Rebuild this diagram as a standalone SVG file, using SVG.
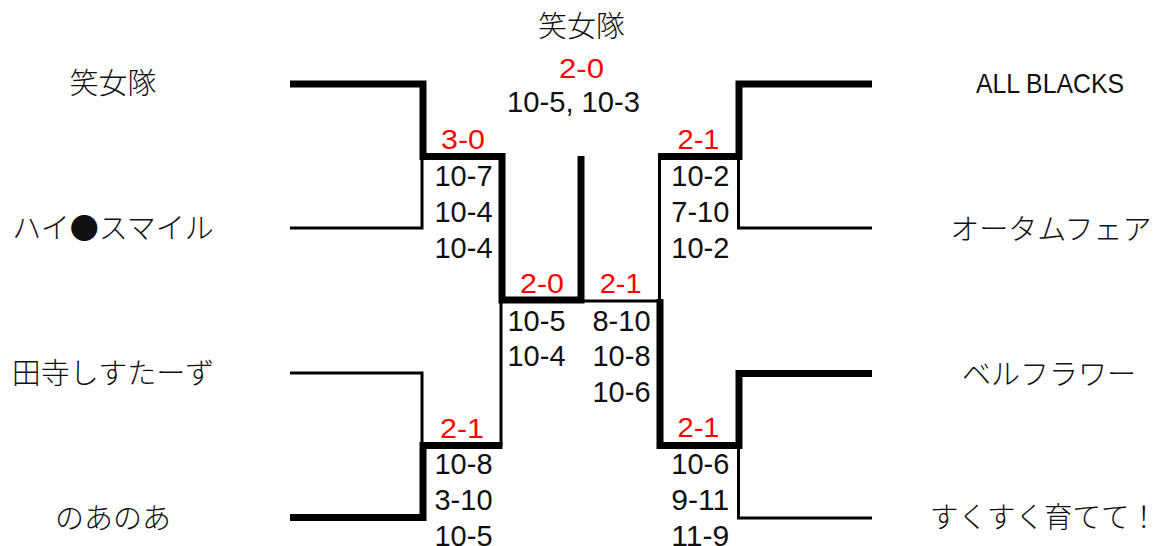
<svg xmlns="http://www.w3.org/2000/svg" width="1159" height="546" viewBox="0 0 1159 546">
<style>
text{font-family:"Noto Sans CJK JP","Noto Sans",sans-serif;fill:#111;}
.name{font-size:29px;text-anchor:middle;font-weight:300;}
.sc{font-family:"Liberation Sans",Arial,sans-serif;font-size:30px;text-anchor:middle;}
.red{font-family:"Liberation Sans",Arial,sans-serif;font-size:27px;text-anchor:middle;fill:#ff0000;}
.thin{fill:none;stroke:#000;stroke-width:3;stroke-linejoin:miter;}
.thick{fill:none;stroke:#000;stroke-width:7;stroke-linejoin:miter;}
</style>
<rect width="1159" height="546" fill="#fff"/>
<g id="connectors">
<path class="thin" d="M290,228 H422 V156.5"/>
<path class="thick" d="M290,84 H423 V156.5 H502 V300 H581 V156"/>
<path class="thin" d="M290,373 H422 V445.5"/>
<path class="thin" d="M501,300 V445.5"/>
<path class="thick" d="M290,517.5 H423 V445.5 H502.5"/>
<path class="thin" d="M872,228 H738.5 V156.5"/>
<path class="thin" d="M659.5,156.5 V301 H581"/>
<path class="thick" d="M872,84 H739 V156.5 H658"/>
<path class="thin" d="M872,518 H738.5 V445.5"/>
<path class="thick" d="M660,299 V445.5 H739 V373.5 H872"/>
</g>
<g id="team-l1"><text class="name" x="113" y="94">笑女隊</text></g>
<g id="team-l2"><text class="name" x="113" y="239">ハイ●スマイル</text></g>
<g id="team-l3"><text class="name" x="113" y="384">田寺しすたーず</text></g>
<g id="team-l4"><text class="name" x="113" y="529">のあのあ</text></g>
<g id="team-r1"><text class="name" x="1050" y="93" textLength="148" lengthAdjust="spacingAndGlyphs" style="font-family:'Liberation Sans',Arial,sans-serif;font-size:28px;font-weight:400">ALL BLACKS</text></g>
<g id="team-r2"><text class="name" x="1051" y="240">オータムフェア</text></g>
<g id="team-r3"><text class="name" x="1049" y="385">ベルフラワー</text></g>
<g id="team-r4"><text class="name" x="1044" y="528" textLength="228" lengthAdjust="spacingAndGlyphs">すくすく育てて！</text></g>
<g id="champion">
<text class="name" x="581.5" y="37">笑女隊</text>
<text class="red" x="581.5" y="78" textLength="45" lengthAdjust="spacingAndGlyphs">2-0</text>
<text class="sc" x="507" y="112" style="text-anchor:start" textLength="133" lengthAdjust="spacingAndGlyphs">10-5, 10-3</text>
</g>
<g id="match-l1">
<text class="red" x="463" y="149" textLength="44" lengthAdjust="spacingAndGlyphs">3-0</text>
<text class="sc" x="463.5" y="186" textLength="58" lengthAdjust="spacingAndGlyphs">10-7</text>
<text class="sc" x="463.5" y="222" textLength="58" lengthAdjust="spacingAndGlyphs">10-4</text>
<text class="sc" x="463.5" y="258" textLength="58" lengthAdjust="spacingAndGlyphs">10-4</text>
</g>
<g id="match-l2">
<text class="red" x="462" y="438" textLength="44" lengthAdjust="spacingAndGlyphs">2-1</text>
<text class="sc" x="463.5" y="474" textLength="58" lengthAdjust="spacingAndGlyphs">10-8</text>
<text class="sc" x="463.5" y="510" textLength="58" lengthAdjust="spacingAndGlyphs">3-10</text>
<text class="sc" x="463.5" y="546" textLength="58" lengthAdjust="spacingAndGlyphs">10-5</text>
</g>
<g id="match-semi-l">
<text class="red" x="542" y="293" textLength="44" lengthAdjust="spacingAndGlyphs">2-0</text>
<text class="sc" x="536.5" y="331" textLength="58" lengthAdjust="spacingAndGlyphs">10-5</text>
<text class="sc" x="536.5" y="366" textLength="58" lengthAdjust="spacingAndGlyphs">10-4</text>
</g>
<g id="match-semi-r">
<text class="red" x="620.7" y="293" textLength="42" lengthAdjust="spacingAndGlyphs">2-1</text>
<text class="sc" x="621.5" y="331" textLength="58" lengthAdjust="spacingAndGlyphs">8-10</text>
<text class="sc" x="621.5" y="366" textLength="58" lengthAdjust="spacingAndGlyphs">10-8</text>
<text class="sc" x="621.5" y="402" textLength="58" lengthAdjust="spacingAndGlyphs">10-6</text>
</g>
<g id="match-r1">
<text class="red" x="698.5" y="149" textLength="42" lengthAdjust="spacingAndGlyphs">2-1</text>
<text class="sc" x="700.3" y="186" textLength="58" lengthAdjust="spacingAndGlyphs">10-2</text>
<text class="sc" x="700.3" y="222" textLength="58" lengthAdjust="spacingAndGlyphs">7-10</text>
<text class="sc" x="700.3" y="258" textLength="58" lengthAdjust="spacingAndGlyphs">10-2</text>
</g>
<g id="match-r2">
<text class="red" x="698.5" y="437" textLength="42" lengthAdjust="spacingAndGlyphs">2-1</text>
<text class="sc" x="700.3" y="474" textLength="58" lengthAdjust="spacingAndGlyphs">10-6</text>
<text class="sc" x="700.3" y="510" textLength="58" lengthAdjust="spacingAndGlyphs">9-11</text>
<text class="sc" x="700.3" y="546" textLength="58" lengthAdjust="spacingAndGlyphs">11-9</text>
</g>
</svg>
